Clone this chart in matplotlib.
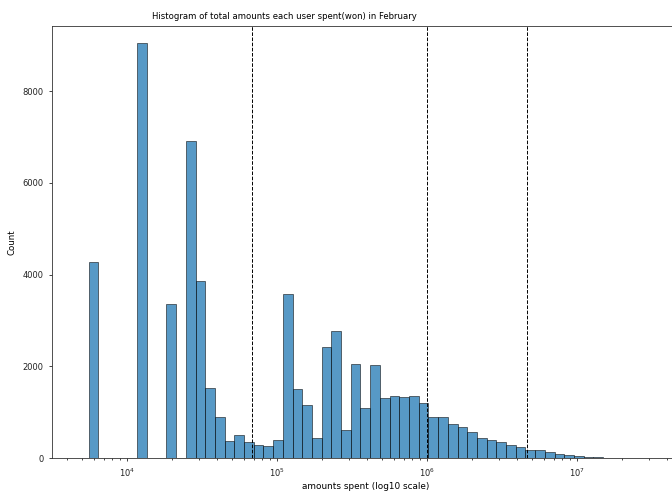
import numpy as np
import matplotlib
matplotlib.use('Agg')
import matplotlib.pyplot as plt

# histogram bins on log10 scale (start and width in decades)
bin_start_log = 3.745
bin_width_log = 0.0647
counts = [4280, 0, 0, 0, 0, 9060, 0, 0, 3350, 0,
          6920, 3860, 1520, 890, 370, 510, 340, 290, 260, 390,
          3580, 1510, 1160, 430, 2420, 2770, 600, 2050, 1090, 2030,
          1310, 1360, 1330, 1360, 1210, 900, 900, 740, 680, 570,
          440, 400, 350, 290, 240, 165, 165, 120, 85, 60,
          50, 30, 25, 10]
# reference lines (amounts in won)
ref_lines = [68000, 1000000, 4650000]

title = 'Histogram of total amounts each user spent(won) in February'
x_label = 'amounts spent (log10 scale)'
y_label = 'Count'


def main():
    fig = plt.figure(figsize=(6.72, 4.94), dpi=100)
    ax = fig.add_axes([52 / 672, 36 / 494, 628 / 672, 432 / 494])

    edges = 10 ** (bin_start_log + bin_width_log * np.arange(len(counts) + 1))
    ax.bar(edges[:-1], counts, width=np.diff(edges), align='edge',
           color='#1f77b4', alpha=0.75, edgecolor='black', linewidth=0.5)

    for v in ref_lines:
        ax.axvline(v, color='black', linestyle='--', linewidth=0.7)

    ax.set_xscale('log')
    ax.set_xlim(10 ** 3.5, 10 ** (3.5 + 628 / 150))
    ax.set_ylim(0, 9420)
    ax.set_yticks([0, 2000, 4000, 6000, 8000])

    ax.tick_params(labelsize=6, width=0.6, length=2.5, colors='#222222')
    ax.tick_params(which='minor', width=0.5, length=1.5)
    for s in ax.spines.values():
        s.set_linewidth(0.6)
        s.set_color('#333333')

    ax.set_title(title, fontsize=6.1, x=(284 - 52) / 628, pad=5)
    ax.set_xlabel(x_label, fontsize=6.4, labelpad=3)
    ax.xaxis.set_label_coords((366 - 52) / 628, -0.055)
    ax.set_ylabel(y_label, fontsize=6.2, labelpad=4)

    plt.savefig('out.png', dpi=100)


if __name__ == '__main__':
    main()
